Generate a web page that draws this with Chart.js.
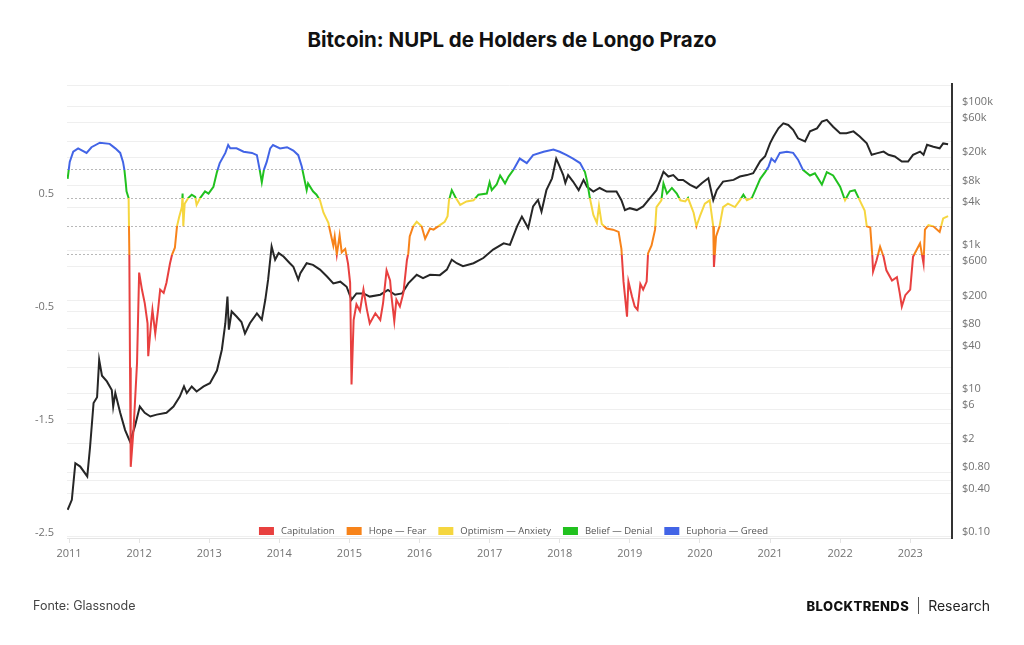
<!DOCTYPE html>
<html lang="pt">
<head>
<meta charset="UTF-8">
<title>Bitcoin: NUPL de Holders de Longo Prazo</title>
<script src="https://cdn.jsdelivr.net/npm/chart.js"></script>
<style>
    body {
        margin: 0;
        width: 1024px;
        height: 645px;
        background: #fff;
        position: relative;
        overflow: hidden;
        font-family: Inter, sans-serif;
    }

    #chart {
        position: absolute;
        left: 0;
        top: 0;
    }

    .title {
        position: absolute;
        top: 27px;
        left: 0;
        width: 1024px;
        text-align: center;
        font-weight: 700;
        font-size: 20.5px;
        color: #111;
    }

    .source {
        position: absolute;
        left: 33px;
        top: 598px;
        font-size: 12.5px;
        color: #444;
    }

    .brand {
        position: absolute;
        right: 34px;
        top: 597px;
        display: flex;
        align-items: center;
    }

    .brand b {
        font-weight: 800;
        font-size: 13px;
        letter-spacing: 0.4px;
        color: #111;
    }

    .brand .sep {
        width: 1px;
        height: 17px;
        background: #555;
        margin: 0 9px;
    }

    .brand span {
        font-size: 14px;
        color: #222;
    }
</style>
</head>
<body>
<div class="title">Bitcoin: NUPL de Holders de Longo Prazo</div>
<canvas id="chart" width="1024" height="645"></canvas>
<div class="source">Fonte: Glassnode</div>
<div class="brand"><b>BLOCKTRENDS</b><div class="sep"></div><span>Research</span></div>

<script>
    // zones of the LTH NUPL line
    const zoneLabels = ['Capitulation', 'Hope — Fear', 'Optimism — Anxiety', 'Belief — Denial', 'Euphoria — Greed'];
    const zoneColors = ['#e8403f', '#f7831a', '#f5d63f', '#21c11f', '#4264e6'];
    const zoneLimits = [0, 0.25, 0.5, 0.75];

    // axis ticks
    const yearTicks = [2011, 2012, 2013, 2014, 2015, 2016, 2017, 2018, 2019, 2020, 2021, 2022, 2023];
    const nuplTicks = [-2.5, -2, -1.5, -1, -0.5, 0, 0.25, 0.5, 0.75, 1, 1.5];
    const nuplLabels = [0.5, -0.5, -1.5, -2.5];
    const priceTicks = [100000, 60000, 20000, 8000, 4000, 1000, 600, 200, 80, 40, 10, 6, 2, 0.8, 0.4, 0.1];
    const priceLabels = ['$100k', '$60k', '$20k', '$8k', '$4k', '$1k', '$600', '$200', '$80', '$40', '$10', '$6', '$2', '$0.80', '$0.40', '$0.10'];

    // LTH NUPL
    const nuplDates = [
        2010.98, 2011.01, 2011.06, 2011.13, 2011.25, 2011.32, 2011.44, 2011.58, 2011.66, 2011.73, 2011.77, 2011.79, 2011.81, 2011.82, 2011.85, 2011.86, 2011.87, 2011.88, 2011.92, 2011.97,
        2012.00, 2012.04, 2012.08, 2012.12, 2012.13, 2012.17, 2012.19, 2012.23, 2012.27, 2012.30, 2012.35, 2012.39, 2012.44, 2012.47, 2012.51, 2012.54, 2012.57, 2012.61, 2012.62, 2012.63, 2012.65, 2012.70, 2012.75, 2012.80, 2012.82, 2012.87, 2012.94, 2012.99,
        2013.06, 2013.11, 2013.15, 2013.23, 2013.27, 2013.30, 2013.39, 2013.49, 2013.61, 2013.68, 2013.72, 2013.75, 2013.78, 2013.82, 2013.87, 2013.91,
        2014.01, 2014.11, 2014.20, 2014.27, 2014.32, 2014.34, 2014.39, 2014.41, 2014.48, 2014.53, 2014.58, 2014.63, 2014.70, 2014.72, 2014.77, 2014.79, 2014.82, 2014.86, 2014.89, 2014.94, 2014.98,
        2015.01, 2015.03, 2015.06, 2015.10, 2015.15, 2015.20, 2015.25, 2015.29, 2015.37, 2015.44, 2015.48, 2015.53, 2015.58, 2015.60, 2015.64, 2015.67, 2015.72, 2015.77, 2015.82, 2015.84, 2015.86, 2015.91, 2015.96,
        2016.03, 2016.08, 2016.15, 2016.20, 2016.29, 2016.36, 2016.40, 2016.42, 2016.46, 2016.51, 2016.58, 2016.67, 2016.77, 2016.84, 2016.96,
        2017.00, 2017.03, 2017.10, 2017.15, 2017.22, 2017.27, 2017.34, 2017.43, 2017.53, 2017.62, 2017.77, 2017.91,
        2018.00, 2018.10, 2018.19, 2018.29, 2018.36, 2018.39, 2018.43, 2018.48, 2018.53, 2018.56, 2018.60, 2018.67, 2018.76, 2018.84, 2018.88, 2018.91, 2018.96, 2018.98,
        2019.03, 2019.07, 2019.11, 2019.15, 2019.19, 2019.24, 2019.26, 2019.31, 2019.36, 2019.38, 2019.45, 2019.48, 2019.53, 2019.60, 2019.67, 2019.72, 2019.79, 2019.83, 2019.91, 2019.95,
        2020.00, 2020.07, 2020.14, 2020.19, 2020.20, 2020.23, 2020.28, 2020.33, 2020.40, 2020.50, 2020.57, 2020.62, 2020.67, 2020.74, 2020.79, 2020.86, 2020.93, 2020.98,
        2021.02, 2021.07, 2021.14, 2021.24, 2021.33, 2021.40, 2021.47, 2021.57, 2021.64, 2021.74, 2021.81, 2021.90,
        2022.00, 2022.07, 2022.14, 2022.21, 2022.28, 2022.35, 2022.38, 2022.43, 2022.46, 2022.47, 2022.52, 2022.57, 2022.62, 2022.66, 2022.74, 2022.81, 2022.85, 2022.88, 2022.93,
        2023.00, 2023.04, 2023.09, 2023.14, 2023.19, 2023.21, 2023.26, 2023.33, 2023.42, 2023.47, 2023.54
    ];
    const nuplValues = [
        0.67, 0.82, 0.91, 0.94, 0.90, 0.95, 0.99, 0.98, 0.94, 0.90, 0.82, 0.75, 0.63, 0.56, 0.50, 0.02, -1.00, -1.88, -1.55, -0.96,
        -0.16, -0.31, -0.43, -0.61, -0.90, -0.61, -0.49, -0.70, -0.49, -0.31, -0.34, -0.25, -0.08, 0.00, 0.06, 0.25, 0.33, 0.42, 0.54, 0.25, 0.45, 0.50, 0.53, 0.51, 0.44, 0.50, 0.56, 0.54,
        0.60, 0.73, 0.81, 0.90, 0.97, 0.94, 0.94, 0.91, 0.90, 0.88, 0.75, 0.64, 0.75, 0.82, 0.94, 0.97,
        0.94, 0.95, 0.92, 0.88, 0.78, 0.72, 0.57, 0.63, 0.56, 0.53, 0.48, 0.37, 0.28, 0.22, 0.08, 0.16, 0.00, 0.17, 0.02, 0.05, -0.08,
        -0.25, -1.15, -0.58, -0.44, -0.50, -0.31, -0.49, -0.61, -0.52, -0.58, -0.43, -0.14, -0.23, -0.37, -0.59, -0.40, -0.46, -0.34, -0.05, 0.01, 0.16, 0.25, 0.29,
        0.25, 0.14, 0.23, 0.22, 0.26, 0.29, 0.34, 0.48, 0.57, 0.51, 0.44, 0.47, 0.48, 0.53, 0.54,
        0.64, 0.57, 0.62, 0.70, 0.63, 0.69, 0.75, 0.85, 0.81, 0.88, 0.91, 0.93,
        0.91, 0.88, 0.85, 0.81, 0.73, 0.65, 0.50, 0.35, 0.28, 0.43, 0.27, 0.23, 0.22, 0.20, 0.05, -0.24, -0.55, -0.24,
        -0.37, -0.46, -0.49, -0.26, -0.31, -0.24, 0.01, 0.08, 0.22, 0.42, 0.48, 0.63, 0.54, 0.59, 0.54, 0.48, 0.47, 0.50, 0.37, 0.25,
        0.34, 0.45, 0.48, 0.25, -0.11, 0.16, 0.25, 0.42, 0.45, 0.42, 0.48, 0.53, 0.48, 0.50, 0.57, 0.67, 0.73, 0.78,
        0.85, 0.82, 0.90, 0.91, 0.90, 0.84, 0.75, 0.70, 0.72, 0.62, 0.73, 0.70,
        0.60, 0.48, 0.56, 0.57, 0.48, 0.39, 0.25, 0.24, -0.02, -0.15, -0.05, 0.07, -0.02, -0.14, -0.23, -0.20, -0.34, -0.46, -0.36,
        -0.31, -0.02, 0.04, 0.10, -0.08, 0.22, 0.26, 0.25, 0.20, 0.32, 0.34
    ];

    // BTC price in USD
    const priceDates = [
        2010.98, 2011.04, 2011.09, 2011.16, 2011.26, 2011.30, 2011.35, 2011.40, 2011.43, 2011.47, 2011.54, 2011.61, 2011.63, 2011.66, 2011.73, 2011.80, 2011.87, 2011.94,
        2012.01, 2012.08, 2012.16, 2012.25, 2012.39, 2012.49, 2012.58, 2012.64, 2012.68, 2012.75, 2012.82, 2012.92,
        2013.01, 2013.11, 2013.18, 2013.23, 2013.26, 2013.28, 2013.32, 2013.39, 2013.46, 2013.51, 2013.58, 2013.68, 2013.75, 2013.80, 2013.84, 2013.89, 2013.94, 2013.99,
        2014.06, 2014.15, 2014.20, 2014.27, 2014.30, 2014.39, 2014.48, 2014.58, 2014.68, 2014.77, 2014.87, 2014.96,
        2015.03, 2015.10, 2015.20, 2015.29, 2015.44, 2015.55, 2015.65, 2015.75, 2015.84, 2015.96,
        2016.05, 2016.15, 2016.29, 2016.39, 2016.46, 2016.53, 2016.62, 2016.77, 2016.91,
        2017.05, 2017.20, 2017.29, 2017.39, 2017.46, 2017.55, 2017.62, 2017.69, 2017.74, 2017.81, 2017.89, 2017.95,
        2018.00, 2018.05, 2018.08, 2018.12, 2018.19, 2018.27, 2018.34, 2018.39, 2018.48, 2018.57, 2018.67, 2018.81, 2018.88, 2018.93,
        2019.00, 2019.10, 2019.19, 2019.29, 2019.38, 2019.48, 2019.55, 2019.62, 2019.69, 2019.76, 2019.86, 2019.95,
        2020.03, 2020.12, 2020.19, 2020.24, 2020.33, 2020.48, 2020.57, 2020.67, 2020.76, 2020.86, 2020.93,
        2021.00, 2021.05, 2021.12, 2021.19, 2021.26, 2021.33, 2021.40, 2021.50, 2021.57, 2021.67, 2021.74, 2021.81, 2021.90,
        2022.00, 2022.09, 2022.19, 2022.28, 2022.38, 2022.45, 2022.52, 2022.62, 2022.69, 2022.78, 2022.88, 2022.97,
        2023.04, 2023.14, 2023.19, 2023.24, 2023.33, 2023.42, 2023.47, 2023.54
    ];
    const priceValues = [
        0.24, 0.33, 1.07, 0.96, 0.70, 1.8, 7.4, 8.9, 29.5, 17.8, 14.8, 11.2, 6.6, 10.2, 5.4, 3.1, 2.14, 3.5,
        6.6, 5.4, 4.8, 5.1, 5.4, 6.6, 9.1, 12.6, 10.2, 12.6, 10.7, 12.6,
        14, 21, 41, 96, 226, 78, 140, 119, 100, 69, 96, 132, 108, 204, 389, 1130, 740, 915,
        820, 660, 590, 390, 480, 660, 627, 537, 430, 345, 365, 310,
        204, 250, 250, 226, 240, 280, 240, 250, 345, 455,
        410, 455, 450, 537, 740, 660, 600, 660, 780,
        1025, 1250, 1190, 2140, 2950, 2040, 4100, 5040, 3460, 6900, 10100, 19000,
        14700, 11200, 8700, 11200, 9100, 6900, 9600, 7700, 6600, 7400, 6600, 6600, 5000, 3640,
        3870, 3640, 4100, 5400, 6900, 12500, 10700, 11200, 9600, 9600, 8200, 7400,
        8700, 10100, 5000, 6900, 9100, 9600, 10700, 11200, 11900, 17500, 20500,
        31000, 38600, 50300, 59000, 56000, 48000, 36500, 33000, 45600, 50300, 62400, 66000, 53000,
        43000, 43000, 45600, 38600, 31000, 21500, 22500, 23800, 21500, 20400, 17300, 17300,
        21500, 23800, 21500, 29600, 27900, 26500, 31000, 30200
    ];

    const tickColor = '#727272';
    const tickFont = { family: '"Open Sans", sans-serif', size: 11 };

    // vertical gradient with hard stops at the zone limits of the left axis
    function zoneGradient(context) {
        const chart = context.chart;
        const area = chart.chartArea;
        if (!area) return zoneColors[0];
        const scale = chart.scales.y;
        const span = area.bottom - area.top;
        const g = chart.ctx.createLinearGradient(0, area.bottom, 0, area.top);
        g.addColorStop(0, zoneColors[0]);
        zoneLimits.forEach((lim, i) => {
            const f = Math.min(1, Math.max(0, (area.bottom - scale.getPixelForValue(lim)) / span));
            g.addColorStop(f, zoneColors[i]);
            g.addColorStop(f, zoneColors[i + 1]);
        });
        g.addColorStop(1, zoneColors[zoneColors.length - 1]);
        return g;
    }

    // legend drawn inside the plot, along its bottom edge
    const zoneLegend = {
        id: 'zoneLegend',
        afterDraw(chart) {
            const { ctx, chartArea } = chart;
            const boxW = 15, boxH = 8, gap = 7, space = 12;
            ctx.save();
            ctx.font = '9.5px "Open Sans", sans-serif';
            ctx.textBaseline = 'middle';
            const widths = zoneLabels.map(t => ctx.measureText(t).width);
            const total = widths.reduce((s, w) => s + boxW + gap + w, 0) + space * (zoneLabels.length - 1);
            let x = (chartArea.left + chartArea.right) / 2 + 4 - total / 2;
            const y = chartArea.bottom - 7;
            zoneLabels.forEach((label, i) => {
                ctx.fillStyle = zoneColors[i];
                ctx.fillRect(x, y - boxH / 2, boxW, boxH);
                ctx.fillStyle = '#555';
                ctx.fillText(label, x + boxW + gap, y + 0.5);
                x += boxW + gap + widths[i] + space;
            });
            ctx.restore();
        }
    };

    const ctx = document.getElementById('chart').getContext('2d');
    new Chart(ctx, {
        type: 'line',
        data: {
            datasets: [
                {
                    label: 'LTH NUPL',
                    data: nuplDates.map((d, i) => ({ x: d, y: nuplValues[i] })),
                    yAxisID: 'y',
                    borderColor: zoneGradient,
                    borderWidth: 2,
                    pointRadius: 0,
                    tension: 0
                },
                {
                    label: 'Price',
                    data: priceDates.map((d, i) => ({ x: d, y: priceValues[i] })),
                    yAxisID: 'y2',
                    borderColor: '#262626',
                    borderWidth: 2,
                    pointRadius: 0,
                    tension: 0
                }
            ]
        },
        options: {
            responsive: false,
            animation: false,
            devicePixelRatio: 1,
            layout: { padding: { top: 84, bottom: 77, left: 0, right: 0 } },
            plugins: {
                legend: { display: false },
                tooltip: { enabled: false }
            },
            scales: {
                x: {
                    type: 'linear',
                    min: 2010.971,
                    max: 2023.596,
                    afterBuildTicks: s => { s.ticks = yearTicks.map(v => ({ value: v })); },
                    afterFit: s => { s.height = 30; },
                    ticks: {
                        callback: v => String(v),
                        autoSkip: false,
                        maxRotation: 0,
                        padding: 4,
                        color: tickColor,
                        font: tickFont
                    },
                    grid: { drawOnChartArea: false, drawTicks: true, tickLength: 5, tickColor: '#e4e4e4' },
                    border: { display: true, color: '#e4e4e4' }
                },
                y: {
                    position: 'left',
                    min: -2.51,
                    max: 1.51,
                    afterBuildTicks: s => { s.ticks = nuplTicks.map(v => ({ value: v })); },
                    afterFit: s => { s.width = 67; },
                    ticks: {
                        callback: v => nuplLabels.includes(v) ? String(v) : '',
                        autoSkip: false,
                        padding: 13,
                        labelOffset: -4,
                        color: tickColor,
                        font: tickFont
                    },
                    grid: {
                        drawTicks: false,
                        color: c => zoneLimits.includes(c.tick.value) ? '#b8b8b8' : '#efefef'
                    },
                    border: {
                        display: false,
                        dash: c => (c.tick && zoneLimits.includes(c.tick.value)) ? [2, 2] : []
                    }
                },
                y2: {
                    type: 'logarithmic',
                    position: 'right',
                    min: 0.0968,
                    max: 209000,
                    afterBuildTicks: s => { s.ticks = priceTicks.map(v => ({ value: v })); },
                    afterFit: s => { s.width = 72; },
                    ticks: {
                        callback: (v, i) => priceLabels[i],
                        autoSkip: false,
                        padding: 10,
                        labelOffset: -5,
                        color: tickColor,
                        font: tickFont
                    },
                    grid: { drawTicks: false, color: '#efefef' },
                    border: { display: true, color: '#333', width: 2 }
                }
            }
        },
        plugins: [zoneLegend]
    });
</script>
</body>
</html>
